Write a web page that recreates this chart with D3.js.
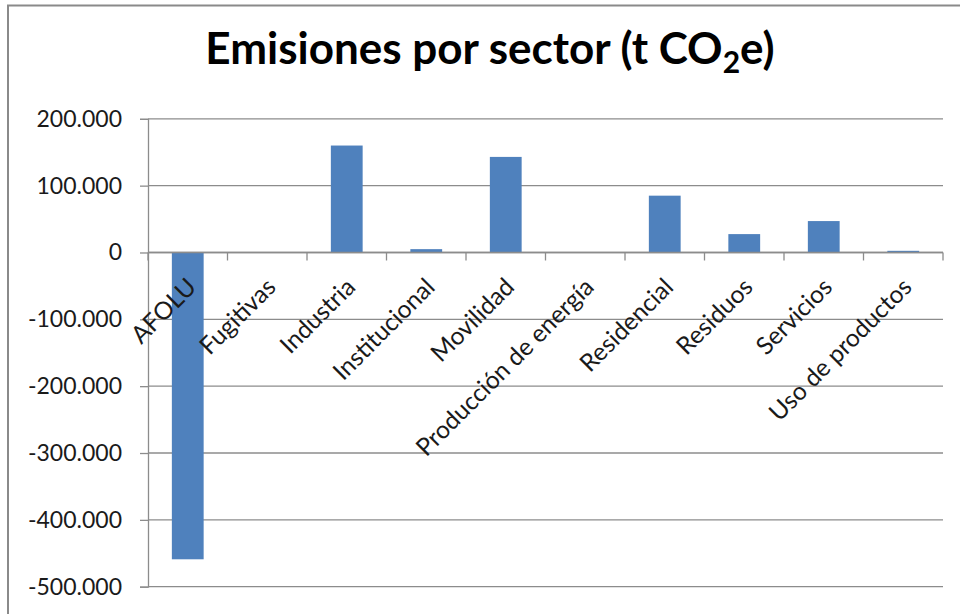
<!DOCTYPE html>
<html>
<head>
<meta charset="utf-8">
<script src="https://cdn.jsdelivr.net/npm/d3@7/dist/d3.min.js"></script>
<style>
  html, body { margin: 0; padding: 0; background: #fff; }
  svg { display: block; }
</style>
</head>
<body>
<script>
const categories = ["AFOLU", "Fugitivas", "Industria", "Institucional", "Movilidad",
  "Producción de energía", "Residencial", "Residuos", "Servicios", "Uso de productos"];
const values = [-459000, 0, 160000, 5000, 143000, 0, 85000, 27500, 47000, 2500];
const yTicks = [200000, 100000, 0, -100000, -200000, -300000, -400000, -500000];
const yTickLabels = ["200.000", "100.000", "0", "-100.000", "-200.000", "-300.000", "-400.000", "-500.000"];

const W = 960, H = 614;
const margin = { left: 148, right: 17, top: 118.8, bottom: 27.3 };
const font = "Lato, 'Open Sans', sans-serif";
const gridColor = "#8c8c8c";

const svg = d3.select("body").append("svg").attr("width", W).attr("height", H);

// outer chart border (top and left visible)
svg.append("path").attr("d", `M8,${H} L8,5.5 L${W},5.5`)
  .attr("fill", "none").attr("stroke", "#8a8a8a").attr("stroke-width", 2);

const x = d3.scaleBand().domain(categories)
  .range([margin.left, W - margin.right]).paddingInner(0.6).paddingOuter(0.3);
const xb = d3.scaleBand().domain(categories).range([margin.left, W - margin.right]);
const y = d3.scaleLinear().domain([-500000, 200000]).range([H - margin.bottom, margin.top]);

// gridlines
svg.append("g").selectAll("line").data(yTicks).join("line")
  .attr("x1", margin.left).attr("x2", W - margin.right)
  .attr("y1", d => y(d)).attr("y2", d => y(d))
  .attr("stroke", gridColor).attr("stroke-width", 1.3);

// y axis
const yAxis = d3.axisLeft(y).tickValues(yTicks)
  .tickFormat((d, i) => yTickLabels[i]).tickSize(8).tickPadding(18);
const gy = svg.append("g").attr("transform", `translate(${margin.left},0)`).call(yAxis);
gy.select(".domain").attr("stroke", gridColor).attr("stroke-width", 1.3);
gy.selectAll(".tick line").attr("stroke", gridColor).attr("stroke-width", 1.3);
gy.selectAll(".tick text").attr("font-family", font).attr("font-size", 23).attr("fill", "#1a1a1a");

// bars
svg.append("g").selectAll("rect").data(values).join("rect")
  .attr("x", (d, i) => x(categories[i]))
  .attr("width", x.bandwidth())
  .attr("y", d => y(Math.max(0, d)))
  .attr("height", d => Math.abs(y(d) - y(0)))
  .attr("fill", "#4f81bd");

// category axis at zero
const y0 = y(0);
const gx = svg.append("g");
gx.append("line").attr("x1", margin.left).attr("x2", W - margin.right)
  .attr("y1", y0).attr("y2", y0).attr("stroke", gridColor).attr("stroke-width", 1.3);
const boundaries = categories.map(c => xb(c)).concat([W - margin.right]);
gx.selectAll("line.tk").data(boundaries).join("line").attr("class", "tk")
  .attr("x1", d => d).attr("x2", d => d).attr("y1", y0).attr("y2", y0 + 8)
  .attr("stroke", gridColor).attr("stroke-width", 1.3);
gx.selectAll("text").data(categories).join("text")
  .attr("transform", d => `translate(${xb(d) + xb.bandwidth() / 2 + 4},${y0 + 30}) rotate(-45)`)
  .attr("text-anchor", "end").attr("dy", "0.35em")
  .attr("font-family", font).attr("font-size", 24.5).attr("fill", "#1a1a1a")
  .text(d => d);

// title
const title = svg.append("text").attr("x", 490).attr("y", 64)
  .attr("text-anchor", "middle").attr("font-family", font)
  .attr("font-weight", "bold").attr("font-size", 44).attr("fill", "#000");
title.append("tspan").text("Emisiones por sector (t CO");
title.append("tspan").attr("font-size", 30).attr("dy", 9).text("2");
title.append("tspan").attr("dy", -9).text("e)");
</script>
</body>
</html>
